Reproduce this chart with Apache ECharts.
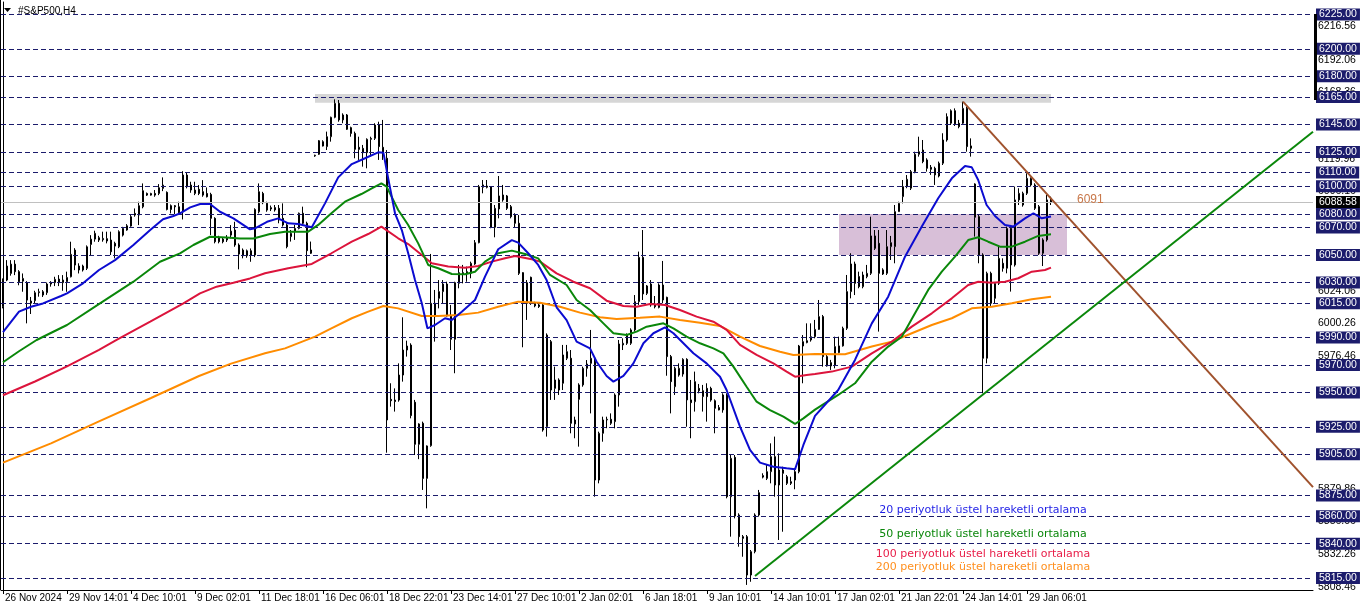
<!DOCTYPE html>
<html><head><meta charset="utf-8">
<script src="https://cdn.jsdelivr.net/npm/echarts@6/dist/echarts.min.js"></script>
<style>html,body{margin:0;padding:0;background:#fff}#c{width:1362px;height:611px}</style>
</head><body><div id="c"></div>
<script>
const symbolTitle = '#S&P500,H4';
const tickLabels = ['26 Nov 2024','29 Nov 14:01','4 Dec 10:01','9 Dec 02:01','11 Dec 18:01','16 Dec 06:01','18 Dec 22:01','23 Dec 14:01','27 Dec 10:01','2 Jan 02:01','6 Jan 18:01','9 Jan 10:01','14 Jan 10:01','17 Jan 02:01','21 Jan 22:01','24 Jan 14:01','29 Jan 06:01'];
// [open, close, low, high]
const candles = [
[6012.4,6031.8,6011.2,6033.0],[6031.8,6042.0,6031.0,6046.3],[6036.6,6043.4,6035.0,6046.3],[6043.4,6037.9,6035.4,6046.3],[6037.9,6030.6,6028.0,6039.0],
[6031.0,6033.0,6023.3,6036.6],[6029.9,6017.2,6000.3,6031.0],[6016.5,6015.0,6007.1,6019.5],[6016.8,6022.6,6015.0,6024.0],[6022.6,6023.3,6019.7,6025.5],
[6023.3,6020.9,6019.5,6024.5],[6022.6,6028.9,6021.0,6030.0],[6028.9,6030.1,6027.0,6031.0],[6029.9,6032.3,6027.4,6034.2],[6032.5,6029.9,6027.4,6035.4],
[6029.9,6031.8,6024.0,6035.4],[6030.6,6033.7,6023.3,6037.9],[6034.2,6050.5,6033.7,6059.7],[6053.6,6042.7,6039.0,6055.0],[6042.0,6039.1,6036.6,6044.0],
[6039.1,6042.0,6038.0,6043.0],[6040.3,6056.0,6039.1,6057.0],[6057.7,6061.6,6050.0,6064.5],[6061.6,6065.8,6059.7,6067.7],[6062.6,6060.9,6059.5,6064.0],
[6061.1,6062.1,6059.7,6067.0],[6061.9,6060.2,6058.5,6067.0],[6060.9,6052.4,6050.0,6067.0],[6058.5,6056.5,6047.6,6059.7],[6056.0,6067.0,6055.0,6068.0],
[6064.5,6069.4,6063.5,6070.5],[6068.2,6071.3,6067.7,6072.5],[6071.1,6077.9,6070.6,6079.1],[6080.3,6079.1,6077.9,6083.9],[6079.1,6085.9,6071.8,6088.8],
[6085.1,6096.8,6084.0,6102.1],[6094.8,6093.6,6093.0,6095.5],[6093.6,6094.8,6093.2,6095.3],[6094.8,6093.6,6092.4,6097.3],[6094.8,6099.0,6093.6,6101.6],
[6098.5,6100.9,6096.5,6106.5],[6095.6,6083.2,6082.5,6096.3],[6085.9,6083.2,6080.3,6086.8],[6085.9,6085.1,6079.8,6086.4],[6085.1,6080.8,6079.1,6088.8],
[6081.5,6108.2,6075.9,6111.0],[6108.2,6099.7,6098.5,6109.9],[6100.9,6097.3,6095.3,6103.3],[6094.8,6097.3,6093.6,6103.3],[6097.8,6094.8,6093.6,6100.9],
[6096.1,6093.6,6092.4,6104.5],[6094.8,6092.4,6091.9,6099.2],[6094.1,6076.7,6064.5,6095.3],[6076.7,6059.7,6058.5,6077.5],[6062.6,6059.7,6058.5,6064.0],
[6061.6,6059.7,6058.5,6063.0],[6060.9,6062.8,6059.5,6064.5],[6064.5,6067.4,6062.1,6071.8],[6068.2,6057.3,6056.0,6074.2],[6057.3,6050.7,6039.6,6058.5],
[6053.6,6049.5,6047.6,6054.8],[6049.5,6053.1,6048.0,6054.0],[6053.1,6050.0,6045.1,6054.8],[6050.0,6083.2,6048.5,6084.0],[6081.5,6096.1,6080.3,6102.1],
[6094.8,6088.1,6087.0,6096.0],[6087.6,6082.7,6081.5,6088.8],[6083.5,6084.5,6082.0,6086.0],[6084.5,6082.8,6081.6,6086.4],[6084.0,6075.5,6073.1,6086.4],
[6076.7,6071.9,6070.7,6087.6],[6071.9,6056.1,6054.9,6073.1],[6063.4,6065.8,6059.8,6068.2],[6067.0,6069.4,6061.0,6071.9],[6069.4,6080.4,6068.7,6080.9],
[6080.4,6073.1,6071.9,6085.2],[6073.1,6053.2,6041.1,6074.3],[6053.7,6051.3,6050.8,6059.8],[6122.1,6122.6,6121.5,6123.0],[6123.3,6133.2,6122.8,6133.7],
[6129.3,6132.5,6129.0,6133.5],[6128.9,6136.1,6126.4,6139.8],[6136.1,6150.2,6132.5,6150.7],[6150.2,6160.4,6149.5,6163.3],[6160.4,6148.3,6147.0,6162.8],
[6148.3,6151.9,6145.9,6153.1],[6151.9,6141.5,6141.0,6152.6],[6142.7,6138.5,6136.1,6143.4],[6138.5,6126.9,6120.4,6139.8],[6128.4,6126.9,6119.2,6136.1],
[6127.6,6124.5,6114.3,6130.1],[6124.5,6134.2,6113.1,6134.9],[6134.2,6134.9,6121.6,6136.1],[6134.9,6144.6,6133.7,6145.9],[6144.6,6128.9,6119.2,6147.0],
[6128.4,6124.0,6119.2,6148.3],[6120.4,5930.0,5906.2,6126.4],[5945.0,5944.0,5939.7,5956.7],[5944.5,5943.4,5936.1,5953.0],[5944.5,5962.7,5943.3,5971.2],
[5962.7,5980.9,5957.9,6004.7],[5980.9,5983.8,5976.1,5987.7],[5984.5,5933.2,5931.2,5985.8],[5942.9,5912.3,5904.5,5944.6],[5912.3,5927.1,5901.5,5927.6],
[5927.6,5887.5,5879.1,5928.8],[5887.5,5911.1,5865.7,5911.5],[5911.3,6014.9,5910.5,6050.8],[6014.9,6005.2,5987.0,6024.6],[6018.5,6023.4,6011.2,6031.8],
[6023.4,6028.9,6014.9,6031.8],[6028.9,6005.7,6005.2,6030.6],[6005.7,5988.7,5980.9,6013.7],[5988.7,6029.9,5964.0,6030.6],[6029.4,6037.2,6025.8,6042.8],
[6036.2,6037.2,6029.4,6042.8],[6036.7,6037.9,6030.6,6041.6],[6036.7,6044.0,6033.1,6045.2],[6043.5,6059.0,6042.8,6060.9],[6059.0,6099.7,6058.5,6101.0],
[6099.3,6101.0,6094.9,6104.6],[6100.2,6099.3,6098.5,6104.6],[6099.7,6070.2,6069.5,6100.2],[6070.2,6084.0,6062.9,6086.4],[6083.5,6093.0,6076.7,6107.5],
[6090.1,6093.7,6088.8,6101.0],[6093.0,6084.0,6082.8,6093.7],[6085.2,6077.9,6076.7,6086.4],[6079.1,6073.1,6070.2,6080.4],[6073.1,6036.7,6035.5,6079.1],
[6037.2,6014.9,5982.9,6037.5],[6014.9,6029.9,6002.8,6031.8],[6033.8,6014.9,6013.7,6034.3],[6014.9,6013.0,6012.0,6016.0],[6013.7,6012.5,6011.5,6015.0],
[6013.7,5922.7,5921.5,6014.9],[5925.1,5991.8,5917.9,5993.0],[5987.0,5951.8,5944.6,5988.2],[5953.0,5959.1,5944.6,5968.8],[5959.1,5951.8,5948.2,5960.3],
[5956.7,5977.3,5951.8,5984.6],[5974.9,5979.7,5973.6,5984.6],[5974.9,5927.6,5920.3,5980.9],[5927.1,5930.0,5916.7,5932.4],[5945.0,5955.5,5910.6,5956.7],
[5955.5,5967.6,5954.2,5968.8],[5967.6,5970.7,5961.5,5973.6],[5971.2,5974.9,5934.8,5995.5],[5974.9,5886.3,5874.2,5976.1],[5886.3,5920.3,5883.9,5921.5],
[5920.3,5930.0,5914.2,5932.4],[5930.0,5930.5,5924.0,5932.4],[5930.5,5927.6,5926.4,5934.8],[5928.8,5948.2,5923.9,5949.4],[5948.2,5985.3,5939.7,5988.2],
[5984.6,5985.8,5980.9,5989.4],[5991.8,5985.8,5984.6,5993.0],[5985.8,5995.5,5984.6,5996.7],[5995.5,6016.1,5994.3,6020.9],[6016.1,6048.3,6013.7,6052.5],
[6048.3,6021.7,6017.3,6068.2],[6022.1,6027.5,6020.9,6028.2],[6028.9,6013.7,6012.4,6031.8],[6013.7,6012.4,6011.2,6020.2],[6011.9,6028.2,6011.2,6029.4],
[6028.2,6017.3,6014.9,6045.7],[6019.2,5976.1,5962.2,6019.7],[5976.1,5957.9,5934.8,5977.3],[5954.2,5967.6,5948.2,5968.8],[5962.7,5967.6,5961.5,5971.2],
[5963.4,5974.1,5961.5,5974.9],[5974.1,5944.6,5925.1,5974.9],[5944.6,5942.6,5916.7,5959.1],[5943.3,5957.9,5936.1,5965.2],[5953.0,5951.3,5949.4,5956.2],
[5947.0,5951.3,5936.1,5955.5],[5953.0,5947.0,5928.8,5956.7],[5953.0,5944.5,5943.3,5954.2],[5944.0,5938.5,5920.3,5945.0],[5939.0,5937.3,5937.0,5940.9],
[5937.3,5948.2,5935.3,5949.4],[5948.2,5874.2,5873.0,5949.4],[5874.2,5902.1,5845.1,5904.5],[5902.8,5860.1,5858.4,5904.5],[5860.9,5845.1,5837.8,5862.1],
[5845.1,5843.9,5830.5,5846.3],[5845.1,5817.2,5810.0,5846.3],[5817.2,5834.2,5812.3,5835.4],[5834.2,5860.9,5833.0,5862.1],[5860.9,5877.1,5859.7,5879.1],
[5888.4,5889.6,5887.5,5891.2],[5887.5,5892.4,5886.3,5897.3],[5892.4,5903.3,5883.9,5913.0],[5903.3,5882.7,5874.2,5917.9],[5882.7,5893.6,5842.7,5905.7],
[5893.6,5891.2,5848.7,5896.0],[5888.7,5883.9,5882.7,5890.0],[5885.1,5883.9,5882.7,5888.7],[5886.3,5892.4,5879.6,5893.6],[5892.4,5983.8,5891.2,5984.6],
[5983.8,5987.0,5956.7,5991.8],[5986.3,5987.7,5985.8,6000.3],[5988.2,5990.6,5987.0,6000.3],[5990.6,5995.9,5989.4,6002.8],[5995.9,6005.2,5995.5,6017.3],
[6005.2,5976.1,5968.8,6006.4],[5976.1,5969.3,5968.8,5977.3],[5971.7,5969.3,5966.4,5973.7],[5970.0,5983.4,5967.6,5990.6],[5979.0,5983.9,5978.5,5990.6],
[5983.9,5996.7,5983.4,5997.9],[5996.7,6023.4,5995.5,6035.5],[6023.4,6043.5,6018.5,6051.3],[6043.5,6029.4,6020.9,6045.2],[6034.3,6027.0,6025.8,6037.9],
[6027.0,6035.5,6025.8,6037.9],[6034.3,6036.7,6033.1,6042.8],[6036.7,6063.9,6035.5,6077.9],[6063.9,6054.9,6053.7,6068.2],[6058.5,6036.7,5994.3,6068.2],
[6039.2,6036.2,6035.5,6040.4],[6036.7,6056.1,6035.5,6068.2],[6056.1,6059.0,6046.4,6063.9],[6056.1,6081.6,6044.0,6086.4],[6081.6,6087.6,6081.5,6088.8],
[6092.5,6099.8,6087.6,6104.6],[6099.8,6105.1,6098.6,6108.2],[6098.6,6110.7,6097.3,6111.9],[6110.7,6123.3,6109.5,6125.2],[6123.3,6125.2,6121.6,6136.1],
[6126.4,6118.0,6116.8,6133.7],[6119.2,6113.1,6110.7,6120.4],[6113.8,6112.4,6108.3,6115.5],[6113.1,6108.3,6101.0,6114.3],[6107.5,6116.8,6106.5,6118.0],
[6116.8,6133.7,6115.5,6138.6],[6133.7,6150.7,6132.5,6153.1],[6145.9,6155.0,6144.6,6156.0],[6155.0,6145.4,6143.9,6156.7],[6145.9,6143.4,6142.2,6148.3],
[6145.9,6156.7,6144.6,6161.6],[6156.7,6128.9,6125.2,6158.0],[6129.4,6127.7,6121.6,6134.9],[6101.7,6077.5,6063.4,6102.2],[6077.9,6050.1,6044.0,6079.2],
[6050.1,5974.9,5949.4,6051.3],[5974.9,6036.7,5971.2,6037.9],[6036.7,6014.9,6013.0,6037.9],[6018.5,6029.4,6014.9,6029.9],[6029.4,6047.6,6028.2,6056.1],
[6044.0,6040.4,6037.9,6047.6],[6040.4,6069.4,6036.7,6070.7],[6069.4,6042.8,6023.4,6071.9],[6042.8,6090.1,6041.6,6099.8],[6090.1,6094.9,6086.4,6098.6],
[6086.4,6094.9,6085.2,6096.1],[6094.9,6105.8,6093.7,6109.5],[6105.8,6101.0,6099.8,6106.5],[6101.0,6084.0,6082.8,6102.2],[6085.2,6051.3,6050.1,6086.4],
[6051.3,6061.0,6042.0,6062.2],[6061.0,6090.1,6059.8,6093.7],[6091.3,6088.6,6086.4,6092.5]
];
// EMA readings [bar position, value]
const ema20 = [[0,5994],[4,6008.8],[7,6012.4],[10,6014.8],[14.5,6020.2],[16,6022.1],[20,6029.4],[24,6039.1],[28,6046.3],[32.6,6057.3],[36.8,6068.2],[40,6076],[42.6,6078.4],[44.25,6080.3],[46.8,6084.7],[49.3,6087.1],[51.75,6087.1],[54.25,6081.5],[57.6,6076.7],[61.75,6068.7],[63,6069.4],[66,6074.2],[68.8,6076.7],[71.3,6073.1],[73.8,6072.6],[77.2,6070.2],[80.5,6087.6],[83.8,6106.5],[87.2,6116.2],[90.5,6120.4],[93.8,6124.7],[95.1,6124.5],[96.3,6105.8],[98,6080.4],[99.7,6068.2],[101.3,6051.3],[103,6031.8],[104.7,6014.9],[106.1,5996.7],[108,5999.1],[110.5,6004],[112.2,6002.8],[114.7,6008.8],[118,6017.3],[120.5,6034.3],[123.8,6054.2],[127.2,6060.9],[128.8,6059],[131.3,6051.3],[133.8,6042.8],[135.9,6031.8],[138.4,6012],[140.9,6002.7],[143.4,5987],[146.75,5982.1],[148.4,5972.4],[150.9,5962],[152.6,5957.9],[155.1,5962],[157.6,5971.2],[160.1,5985.8],[162.6,5993.1],[165.5,5997.4],[167.6,5993.1],[170.1,5985.8],[172.6,5978.5],[175.9,5971.2],[179.25,5961.5],[180.9,5951.8],[184.25,5925.1],[186.75,5908.2],[189.25,5899],[192.6,5896],[195.9,5894.8],[198,5894.1],[200.1,5911.8],[203,5933],[208.8,5951.8],[213,5973.7],[217.2,6000.3],[221.3,6019.7],[225.5,6048.8],[229.7,6070.7],[233.8,6091.3],[237.2,6105.8],[240.5,6114.8],[242.2,6113.8],[243.8,6104.6],[245.9,6086.4],[248,6078.4],[250.5,6071.9],[252.6,6070.7],[255.5,6076.7],[257.6,6080.4],[259.7,6076.7],[262,6078]];
const ema50 = [[0,5972],[4,5980],[8.4,5988.2],[16,5999.1],[24.25,6014.8],[32.6,6030.6],[39.25,6045.1],[44.25,6051.2],[47.6,6057.3],[51.75,6063.3],[55.9,6062.8],[59.25,6062.1],[62.6,6062.1],[66.75,6065.3],[70.5,6067],[76.3,6067],[78.8,6071.9],[82.1,6080.4],[85.5,6088.8],[89.6,6094.4],[92.2,6098.5],[94.6,6102.2],[95.9,6099.8],[98.8,6082.8],[101.3,6071.9],[103.8,6058.5],[106.3,6042.8],[108.8,6040.4],[112.2,6036.2],[115.5,6036],[118,6037.9],[120.5,6045.2],[123.8,6051.3],[127.2,6053.2],[130.5,6050.8],[133.8,6047.6],[136.75,6035.5],[140.9,6028.2],[143.4,6017.3],[146.75,6010],[150.1,6000.3],[152.6,5993.1],[155.9,5991.8],[158.4,5994.3],[160.9,5997.9],[165.1,6000.3],[167.6,5996.7],[170.9,5990.6],[174.25,5985.8],[177.6,5982.1],[180.1,5978.5],[182.6,5968.8],[185.9,5954.2],[188.4,5943.3],[191.75,5937.2],[195.1,5932.4],[198,5927.1],[200.1,5931.2],[203,5937.5],[208.8,5948.2],[213,5956.7],[217.2,5972.4],[221.3,5983.4],[224.7,5990.6],[228,6007.6],[231.3,6024.6],[234.7,6037.9],[238,6048.8],[241.3,6060.9],[243.8,6062.9],[246.3,6059.7],[249.25,6056.1],[252.2,6056.1],[255.5,6059.7],[258.8,6063.9],[262,6065.1]];
const ema100 = [[0,5948],[8,5958],[16,5969],[24,5981],[28.4,5988.2],[36.8,6001.5],[45.1,6014.8],[49.25,6022.1],[53.4,6027],[57.6,6029.9],[61.75,6033],[65.5,6036.7],[71.3,6040.4],[77.2,6043.5],[82.1,6051.3],[87.2,6059.7],[91.3,6065.3],[94.6,6070.7],[98.8,6062.2],[101.3,6058],[104.7,6050],[107.2,6044],[111.3,6041.6],[115.5,6040.8],[118.8,6042],[122.2,6045.2],[125.5,6047.6],[128,6049.3],[132.2,6046.9],[134.25,6045.2],[138.4,6036.7],[142.6,6030.6],[146.75,6025.8],[150.9,6016.8],[155.1,6012.9],[158.4,6012.4],[161.75,6014.4],[165.5,6013.6],[169.25,6010],[173.4,6005.2],[177.6,6001.5],[180.9,5995.5],[184.25,5984.6],[188.4,5977.3],[192.6,5971.2],[195.9,5965.2],[198,5961.5],[200.9,5962.7],[203,5963.4],[207.2,5965.2],[212.2,5968.8],[217.2,5978.5],[222.2,5987],[227.2,5997.9],[232.2,6007.6],[237.2,6018.5],[241.3,6028.2],[243.8,6030.6],[247.2,6029.9],[250.5,6030.6],[253.8,6033.1],[257.2,6037.9],[260.5,6039.1],[262,6040.8]];
const ema200 = [[0,5899],[12,5913],[24,5929],[37,5946],[49,5962],[57,5971],[65.5,5978.5],[70.5,5982.1],[78,5990.6],[82.1,5996.7],[87.2,6004],[91.3,6008.8],[95.1,6012.9],[98.8,6011.2],[104.7,6005.7],[108.8,6005.7],[113.8,6006.4],[118.8,6008.1],[123.8,6012.4],[128.8,6016.1],[134.25,6015.3],[139.25,6012.4],[144.25,6008.1],[149.25,6004.7],[153.4,6003.5],[159.25,6004.4],[164.25,6005.2],[169.25,6002.7],[174.25,6000.8],[179.25,5998.4],[184.25,5990.6],[189.25,5983.8],[194.25,5979.7],[197.6,5977.3],[203,5978],[210.5,5977.8],[217.2,5983.4],[222.2,5987],[227.2,5993.1],[232.2,5999.1],[237.2,6004],[242.2,6011.2],[247.2,6012.4],[252.2,6014.9],[257.2,6017.8],[262,6019.7]];
const levelLines = [6225,6200,6180,6165,6145,6125,6110,6100,6080,6070,6050,6030,6015,5990,5970,5950,5925,5905,5875,5860,5840,5815];
const scaleLabels = [6216.56,6192.06,6168.36,6119.96,6096.16,6047.86,6024.06,6000.26,5976.46,5879.86,5856.06,5832.26,5808.46];
const bidPrice = 6088.58;
const resistanceZone = [[78,6167.2],[262,6160.8]];
const supportZone = [[209,6079.9],[266,6050.0]];
const downTrend = [[240,6161.6],[327.5,5881.2]];
const upTrend = [[188,5816.5],[327.5,6139.7]];
const trendLabel = '6091';
const emaNames = ['20 periyotluk üstel hareketli ortalama','50 periyotluk üstel hareketli ortalama','100 periyotluk üstel hareketli ortalama','200 periyotluk üstel hareketli ortalama'];

const N_SLOTS = 328;
const LAST_TICK = 256;
const slots = Array.from({length:N_SLOTS},(_,i)=>'b'+i);
const FONT = '"Liberation Sans", Arial, sans-serif';
const FONT2 = '"DejaVu Sans", Verdana, sans-serif';
const NAVY = '#1c1c6c';
const C20='#0b0bd0', C50='#0a870a', C100='#dc143c', C200='#ff8c00';

const chart = echarts.init(document.getElementById('c'), null, {renderer:'canvas'});
const emaLine = (d,c,name)=>({type:'line',name,xAxisIndex:1,data:d,showSymbol:false,symbol:'none',silent:true,z:6,lineStyle:{color:c,width:2}});
const showTick = (idx)=> idx%16===0 && idx<=LAST_TICK;
const option = {
  animation:false,
  backgroundColor:'#fff',
  grid:{left:1,right:49,top:2,bottom:21},
  xAxis:[
    {type:'category',data:slots,boundaryGap:true,
     axisLine:{lineStyle:{color:'#000',width:1}},
     axisTick:{show:true,interval:showTick,alignWithLabel:true,length:4,lineStyle:{color:'#000'}},
     axisLabel:{interval:showTick,formatter:(v,idx)=>tickLabels[idx/16]||'',align:'left',padding:[0,0,0,2],margin:3,color:'#000',fontSize:10,fontFamily:FONT},
     splitLine:{show:false}},
    {type:'value',min:-0.5,max:N_SLOTS-0.5,show:false}
  ],
  yAxis:{type:'value',position:'right',min:5806.3,max:6234.1,
    axisLine:{show:true,lineStyle:{color:'#000'}},axisTick:{show:false},axisLabel:{show:false},splitLine:{show:false}},
  series:[
    {type:'line',xAxisIndex:1,data:[],z:1,silent:true,
     markArea:{silent:true,data:[
       [{coord:resistanceZone[0],itemStyle:{color:'#d6d6d6'}},{coord:resistanceZone[1]}],
       [{coord:supportZone[0],itemStyle:{color:'#d8bfd8'}},{coord:supportZone[1]}]
     ]}},
    {type:'line',xAxisIndex:1,data:[],z:2,silent:true,
     markLine:{silent:true,symbol:['none','none'],lineStyle:{color:'rgba(0,0,0,0)',width:1,type:'solid'},
       label:{show:true,position:'end',distance:5,color:'#000',fontSize:10.5,fontFamily:FONT,formatter:p=>p.value.toFixed(2)},
       data:scaleLabels.map(v=>({yAxis:v}))}},
    {type:'line',xAxisIndex:1,data:[],z:3,silent:true,
     markLine:{silent:true,symbol:['none','none'],
       lineStyle:{color:NAVY,width:1,type:[5,3]},
       label:{position:'end',distance:3,color:'#fff',backgroundColor:NAVY,padding:[1,3,0,3],fontSize:10.5,fontFamily:FONT,formatter:p=>p.value.toFixed(2)},
       data:levelLines.map(v=>({yAxis:v})).concat([{yAxis:bidPrice,lineStyle:{color:'#c0c0c0',type:'solid',width:1},label:{backgroundColor:'#000',color:'#fff'}}])}},
    {type:'candlestick',data:candles,barWidth:2,z:4,silent:true,
     itemStyle:{color:'#fff',color0:'#000',borderColor:'#000',borderColor0:'#000',borderWidth:1}},
    emaLine(ema200,C200,'EMA200'),
    emaLine(ema100,C100,'EMA100'),
    emaLine(ema50,C50,'EMA50'),
    emaLine(ema20,C20,'EMA20'),
    {type:'line',xAxisIndex:1,data:downTrend,showSymbol:false,symbol:'none',z:7,silent:true,lineStyle:{color:'#a0522d',width:2}},
    {type:'line',xAxisIndex:1,data:upTrend,showSymbol:false,symbol:'none',z:7,silent:true,lineStyle:{color:'#0a870a',width:2}}
  ],
  graphic:[
    {type:'line',shape:{x1:0.5,y1:0,x2:0.5,y2:590},style:{stroke:'#000',lineWidth:1},z:10},
    {type:'rect',shape:{x:1314,y:14,width:3,height:86},style:{fill:'#000'},z:10},
    {type:'polygon',shape:{points:[[4,8],[11,8],[7.5,12]]},style:{fill:'#000'},z:10},
    {type:'text',x:18,y:11,style:{text:symbolTitle,fill:'#000',font:'10px '+FONT,textVerticalAlign:'middle'},z:10},
    {type:'text',x:983,y:510,style:{text:emaNames[0],fill:'#1f1fe6',font:'11px '+FONT2,textAlign:'center',textVerticalAlign:'middle'},z:10},
    {type:'text',x:983,y:534,style:{text:emaNames[1],fill:'#0a870a',font:'11px '+FONT2,textAlign:'center',textVerticalAlign:'middle'},z:10},
    {type:'text',x:983,y:554,style:{text:emaNames[2],fill:'#e8204a',font:'11px '+FONT2,textAlign:'center',textVerticalAlign:'middle'},z:10},
    {type:'text',x:983,y:567,style:{text:emaNames[3],fill:'#ff9020',font:'11px '+FONT2,textAlign:'center',textVerticalAlign:'middle'},z:10},
    {type:'text',x:1077,y:200,style:{text:trendLabel,fill:'#c8784a',font:'12px '+FONT,textVerticalAlign:'middle'},z:10}
  ]
};
chart.setOption(option);
</script></body></html>
